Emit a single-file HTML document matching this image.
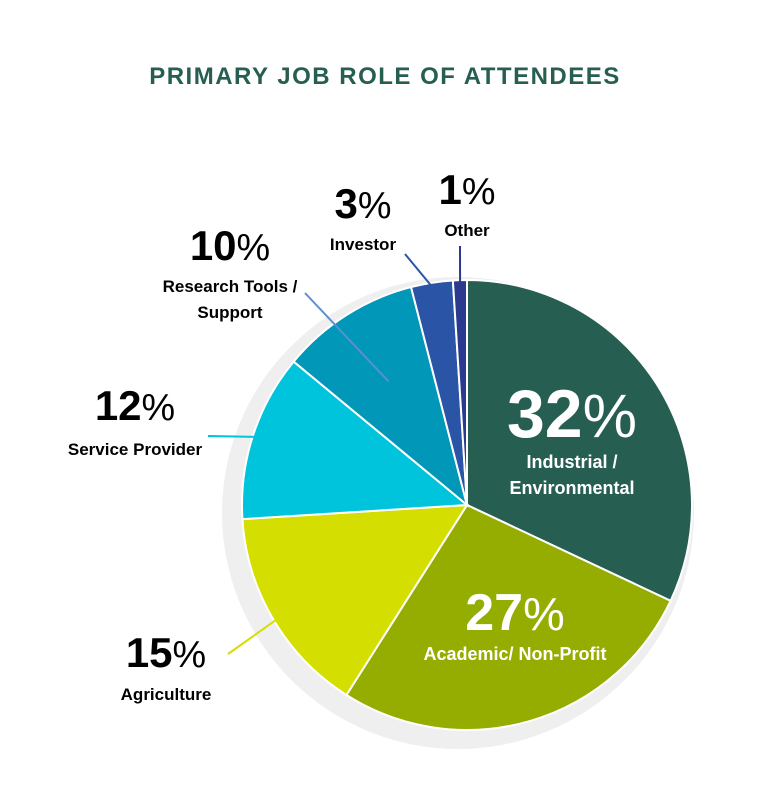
<!DOCTYPE html>
<html><head><meta charset="utf-8"><style>
body{margin:0;background:#fff;}
svg{display:block;font-family:"Liberation Sans",sans-serif;}
</style></head><body>
<svg width="771" height="792" viewBox="0 0 771 792">
<text x="385" y="84" text-anchor="middle" font-size="24" font-weight="bold" fill="#275e52" letter-spacing="1.5">PRIMARY JOB ROLE OF ATTENDEES</text>
<circle cx="458" cy="513" r="236" fill="#efefef"/>
<g id="slices"></g>
<g id="labels"></g>
</svg>
<script>
const categories=["Industrial / Environmental","Academic/ Non-Profit","Agriculture","Service Provider","Research Tools / Support","Investor","Other"];
const values=[32,27,15,12,10,3,1];
const colors=["#275e52","#95ad00","#d4de00","#00c4dc","#0097b8","#2a55a6","#2b3a8f"];
const cx=467,cy=505,r=225,NS="http://www.w3.org/2000/svg";
const total=values.reduce((a,b)=>a+b,0);
function pt(a,rr){return [cx+rr*Math.sin(a),cy-rr*Math.cos(a)];}
const g=document.getElementById('slices');
let a0=0;
const mids=[];
values.forEach((v,i)=>{
 const a1=a0+v/total*2*Math.PI;
 const p0=pt(a0,r),p1=pt(a1,r);
 const p=document.createElementNS(NS,'path');
 p.setAttribute('d',`M${cx},${cy}L${p0[0]},${p0[1]}A${r},${r} 0 ${a1-a0>Math.PI?1:0} 1 ${p1[0]},${p1[1]}Z`);
 p.setAttribute('fill',colors[i]);p.setAttribute('stroke','#fff');p.setAttribute('stroke-width','2');
 
 
 g.appendChild(p);
 mids.push((a0+a1)/2);a0=a1;
});
// label layout: [pctX,pctY,pctSize,lines,lineY,color,leader(from label) or null, innerR]
const L=document.getElementById('labels');
const layout=[
 {x:572,y:437,fs:68,ly:[468,494],col:"#fff",lead:null},
 {x:515,y:630,fs:52,ly:[660],col:"#fff",lead:null},
 {x:166,y:667,fs:42,ly:[700],col:"#000",lead:[228,654],ir:0.9},
 {x:135,y:420,fs:42,ly:[455],col:"#000",lead:[208,436],ir:0.98},
 {x:230,y:260,fs:42,ly:[292,318],col:"#000",lead:[305,293],ir:0.65},
 {x:363,y:218,fs:42,ly:[250],col:"#000",lead:[405,254],ir:0.98},
 {x:467,y:204,fs:42,ly:[236],col:"#000",lead:[460,246],ir:0.98}
];
const lineTexts=[["Industrial /","Environmental"],["Academic/ Non-Profit"],["Agriculture"],["Service Provider"],["Research Tools /","Support"],["Investor"],["Other"]];
values.forEach((v,i)=>{
 const c=layout[i];
 if(c.lead){
  const e=pt(mids[i],r*c.ir);
  const ln=document.createElementNS(NS,'line');
  ln.setAttribute('x1',c.lead[0]);ln.setAttribute('y1',c.lead[1]);ln.setAttribute('x2',e[0]);ln.setAttribute('y2',e[1]);
  ln.setAttribute('stroke',i===4?'#5b8fd0':colors[i]);ln.setAttribute('stroke-width','2');
  
  
  L.appendChild(ln);
 }
 const t=document.createElementNS(NS,'text');
 t.setAttribute('x',c.x);t.setAttribute('y',c.y);t.setAttribute('text-anchor','middle');t.setAttribute('fill',c.col);
 t.setAttribute('font-size',c.fs);t.setAttribute('font-weight','bold');
 t.innerHTML=v+'<tspan font-weight="normal" font-size="'+(c.fs*0.9)+'">%</tspan>';
 
 
 L.appendChild(t);
 lineTexts[i].forEach((s,k)=>{
  const tt=document.createElementNS(NS,'text');
  tt.setAttribute('x',c.x);tt.setAttribute('y',c.ly[k]);tt.setAttribute('text-anchor','middle');
  tt.setAttribute('fill',c.col);tt.setAttribute('font-size',i<2?18:17);tt.setAttribute('font-weight','bold');
  tt.textContent=s;
  
  
  L.appendChild(tt);
 });
});
</script>
</body></html>
